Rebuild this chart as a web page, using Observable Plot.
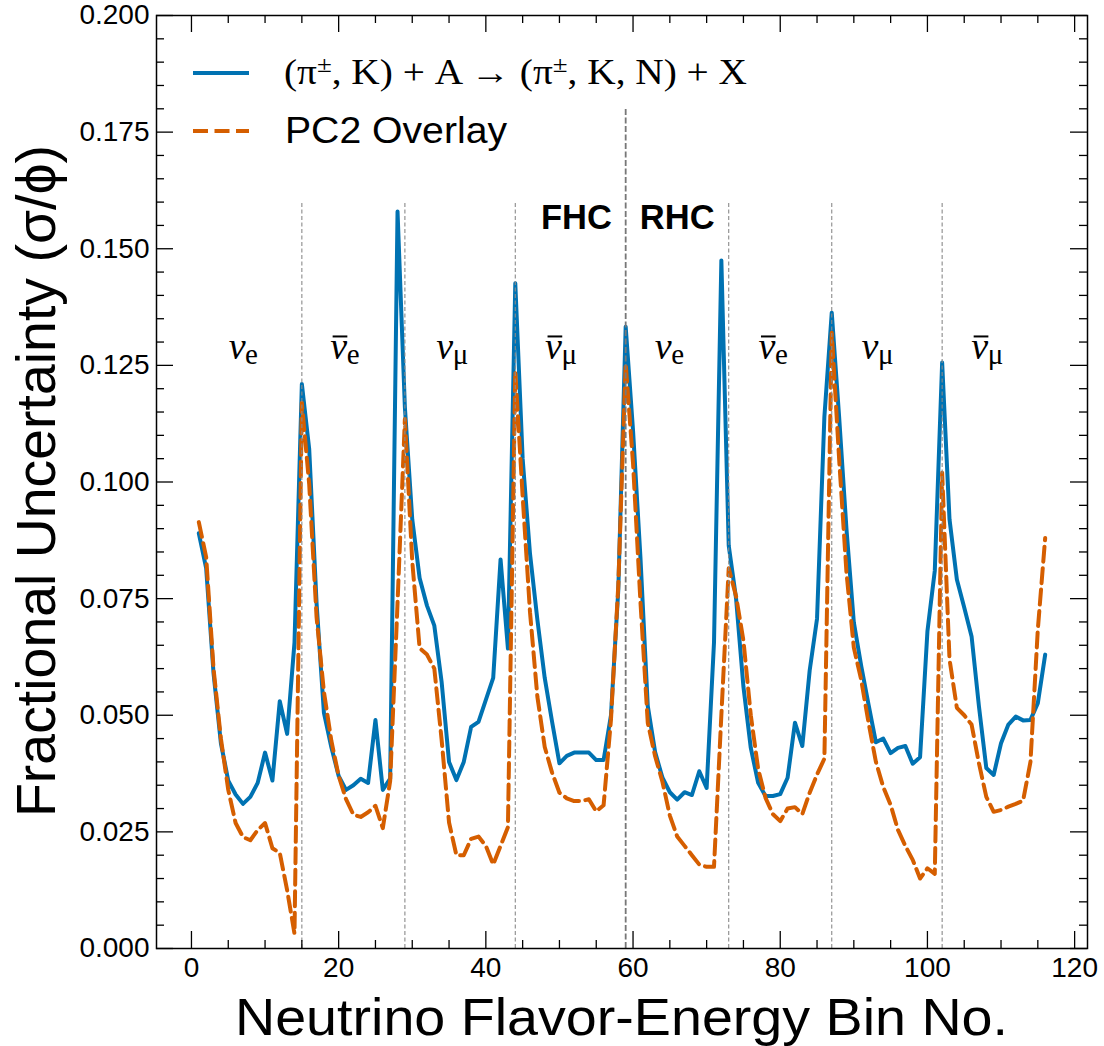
<!DOCTYPE html>
<html><head><meta charset="utf-8">
<script src="https://cdn.jsdelivr.net/npm/d3@7"></script>
<script src="https://cdn.jsdelivr.net/npm/@observablehq/plot@0.6"></script>
<style>
body{margin:0;background:#fff;}
#chart svg{display:block;}
</style></head><body><div id="chart"></div>
<script>
// ---------- data ----------
const bins = d3.range(1, 117);
const hadronProduction = [
  0.089, 0.0815, 0.059, 0.044, 0.036, 0.033, 0.031, 0.0325, 0.0355, 0.042,
  0.036, 0.053, 0.046, 0.0656, 0.121, 0.107, 0.074, 0.0505, 0.0432, 0.037,
  0.034, 0.035, 0.0364, 0.0355, 0.049, 0.034, 0.0364, 0.158, 0.116, 0.092,
  0.0794, 0.0735, 0.0692, 0.057, 0.040, 0.0361, 0.040, 0.0475, 0.0486, 0.0533,
  0.058, 0.0834, 0.0643, 0.1426, 0.105, 0.0846, 0.0705, 0.058, 0.0486, 0.0397,
  0.0413, 0.042, 0.042, 0.042, 0.0404, 0.0404, 0.050, 0.077, 0.1333, 0.111,
  0.084, 0.052, 0.0421, 0.0366, 0.0335, 0.0319, 0.0335, 0.0329, 0.038, 0.0344,
  0.0656, 0.1475, 0.0864, 0.075, 0.0561, 0.043, 0.0355, 0.0327, 0.0327, 0.0331,
  0.0366, 0.0484, 0.0434, 0.0596, 0.0707, 0.114, 0.1363, 0.114, 0.0899, 0.0699,
  0.0606, 0.0523, 0.0442, 0.045, 0.0419, 0.043, 0.0434, 0.0396, 0.041, 0.068,
  0.081, 0.1256, 0.092, 0.0791, 0.0731, 0.0669, 0.0519, 0.0387, 0.0372, 0.044,
  0.048, 0.0497, 0.0489, 0.049, 0.0526, 0.063
];
const pc2Overlay = [
  0.0914, 0.0839, 0.060, 0.045, 0.034, 0.0269, 0.0239, 0.0232, 0.0254, 0.0269,
  0.0215, 0.0205, 0.0125, 0.0032, 0.117, 0.0995, 0.071, 0.055, 0.0446, 0.037,
  0.032, 0.0287, 0.0282, 0.0292, 0.0306, 0.0258, 0.0359, 0.074, 0.1135, 0.083,
  0.0644, 0.063, 0.060, 0.0446, 0.027, 0.020, 0.020, 0.0235, 0.024, 0.022,
  0.018, 0.022, 0.026, 0.1237, 0.097, 0.0721, 0.054, 0.0432, 0.0377, 0.0334,
  0.0322, 0.0316, 0.0316, 0.032, 0.0294, 0.0307, 0.049, 0.078, 0.1254, 0.104,
  0.0745, 0.0484, 0.0412, 0.0357, 0.0285, 0.024, 0.022, 0.020, 0.018, 0.0175,
  0.0175, 0.050, 0.0815, 0.0755, 0.066, 0.050, 0.0385, 0.0323, 0.0288, 0.0273,
  0.030, 0.0303, 0.0288, 0.0334, 0.0373, 0.0407, 0.132, 0.105, 0.0806, 0.0645,
  0.0576, 0.0484, 0.040, 0.0346, 0.0308, 0.0254, 0.022, 0.019, 0.015, 0.0172,
  0.016, 0.102, 0.062, 0.0516, 0.050, 0.048, 0.0397, 0.0325, 0.0293, 0.0297,
  0.0304, 0.031, 0.0317, 0.040, 0.0684, 0.088
];
const seriesNames = ["(π±, K) + A → (π±, K, N) + X", "PC2 Overlay"];
const separatorBins = [15, 29, 44, 73, 87, 102];
const separatorTop = 0.16;
const hornSwitchBin = [59];
const hornSwitchTop = 0.18;
const flavorX = [6.2, 20.0, 34.4, 49.2, 64.1, 78.2, 92.2, 107.1];
const flavorBar = [false, true, false, true, false, true, false, true];
const flavorSub = ["e", "e", "μ", "μ", "e", "e", "μ", "μ"];
const flavorLevel = 0.1289;
const barLevel = 0.1312;
const barHalf = 1.0;
const hornLabels = ["FHC", "RHC"];
const hornLabelX = [52.3, 66.0];
const hornLevel = 0.1567;
const xTicks = [0, 20, 40, 60, 80, 100, 120];
const xMinorTicks = d3.range(5, 120, 5).filter(v => v % 20 !== 0);
const yTicks = [0, 0.025, 0.05, 0.075, 0.1, 0.125, 0.15, 0.175, 0.2];
const yMinorTicks = d3.range(1, 40).filter(i => i % 5 !== 0).map(i => i * 0.005);
const xDomain = [-4.75, 121.75];
const yDomain = [0, 0.2];
const xTitle = "Neutrino Flavor-Energy Bin No.";
const yTitle = "Fractional Uncertainty (σ/ϕ)";

// ---------- layout / style ----------
const W = 1104, H = 1046;
const mL = 156, mR = 17, mT = 15, mB = 98;
const innerW = W - mL - mR, innerH = H - mT - mB;
const majorLen = 17, minorLen = 8;
const blue = "#0072B2", orange = "#D55E00";
const sans = "'Liberation Sans', Arial, Helvetica, sans-serif";
const serif = "'Liberation Serif', 'Times New Roman', serif";

const blueRows = bins.map((b, i) => ({bin: b, value: hadronProduction[i]}));
const orangeRows = bins.map((b, i) => ({bin: b, value: pc2Overlay[i]}));
const flavorIdx = d3.range(flavorX.length);
const barIdx = flavorIdx.filter(i => flavorBar[i]);

const tickStyle = {stroke: "black", strokeWidth: 1.3};

const chart = Plot.plot({
  width: W, height: H,
  marginLeft: mL, marginRight: mR, marginTop: mT, marginBottom: mB,
  style: {fontFamily: sans, background: "white", color: "black"},
  x: {domain: xDomain, axis: null, label: null},
  y: {domain: yDomain, axis: null, label: null},
  marks: [
    Plot.line(blueRows, {x: "bin", y: "value", stroke: blue, strokeWidth: 4, strokeLinejoin: "round"}),
    Plot.line(orangeRows, {x: "bin", y: "value", stroke: orange, strokeWidth: 4, strokeDasharray: "15,6.5", strokeLinejoin: "round"}),
    Plot.ruleX(separatorBins, {x: d => d, y1: 0, y2: separatorTop, stroke: "#8a8a8a", strokeWidth: 1.1, strokeDasharray: "4,2.5"}),
    Plot.ruleX(hornSwitchBin, {x: d => d, y1: 0, y2: hornSwitchTop, stroke: "#777", strokeWidth: 1.8, strokeDasharray: "6,2.5"}),
    Plot.text(flavorIdx, {x: i => flavorX[i], y: () => flavorLevel, text: () => "ν",
      fontFamily: serif, fontStyle: "italic", fontSize: 38, textAnchor: "middle", fill: "black"}),
    Plot.ruleY(barIdx, {y: () => barLevel, x1: i => flavorX[i] - barHalf + 0.25, x2: i => flavorX[i] + barHalf + 0.25,
      stroke: "black", strokeWidth: 2}),
    Plot.text(flavorIdx, {x: i => flavorX[i], y: () => flavorLevel, text: i => flavorSub[i],
      fontFamily: serif, fontSize: 29, textAnchor: "start", dx: 8, dy: 7.5, fill: "black"}),
    Plot.text(hornLabels, {x: (d, i) => hornLabelX[i], y: () => hornLevel, text: d => d,
      fontFamily: sans, fontWeight: "bold", fontSize: 34.5, textAnchor: "middle", fill: "black"}),
    // inward ticks on all four sides
    Plot.tickY(yTicks, {y: d => d, insetRight: innerW - majorLen, ...tickStyle}),
    Plot.tickY(yTicks, {y: d => d, insetLeft: innerW - majorLen, ...tickStyle}),
    Plot.tickY(yMinorTicks, {y: d => d, insetRight: innerW - minorLen, ...tickStyle}),
    Plot.tickY(yMinorTicks, {y: d => d, insetLeft: innerW - minorLen, ...tickStyle}),
    Plot.tickX(xTicks, {x: d => d, insetTop: innerH - majorLen, ...tickStyle}),
    Plot.tickX(xTicks, {x: d => d, insetBottom: innerH - majorLen, ...tickStyle}),
    Plot.tickX(xMinorTicks, {x: d => d, insetTop: innerH - minorLen, ...tickStyle}),
    Plot.tickX(xMinorTicks, {x: d => d, insetBottom: innerH - minorLen, ...tickStyle}),
    Plot.axisX({ticks: xTicks, tickSize: 0, tickPadding: 9, fontSize: 28, tickFormat: d => String(d), label: null}),
    Plot.axisY({ticks: yTicks, tickSize: 0, tickPadding: 7, fontSize: 28, tickFormat: d3.format(".3f"), label: null}),
    Plot.frame({stroke: "black", strokeWidth: 1.5})
  ]
});
document.getElementById("chart").appendChild(chart);

// ---------- titles and legend ----------
const svg = d3.select(chart);
svg.append("text")
  .attr("x", mL + innerW / 2).attr("y", 1035)
  .attr("text-anchor", "middle")
  .attr("font-family", sans).attr("font-size", 52)
  .attr("textLength", 773).attr("lengthAdjust", "spacingAndGlyphs")
  .attr("fill", "black")
  .text(xTitle);
svg.append("text")
  .attr("transform", "translate(55,481) rotate(-90)")
  .attr("text-anchor", "middle")
  .attr("font-family", sans).attr("font-size", 55)
  .attr("textLength", 672).attr("lengthAdjust", "spacingAndGlyphs")
  .attr("fill", "black")
  .text(yTitle);

const leg = svg.append("g").attr("text-anchor", "start");
leg.append("line").attr("x1", 193).attr("x2", 249).attr("y1", 73).attr("y2", 73)
  .attr("stroke", blue).attr("stroke-width", 4);
leg.append("line").attr("x1", 193).attr("x2", 249).attr("y1", 131).attr("y2", 131)
  .attr("stroke", orange).attr("stroke-width", 4).attr("stroke-dasharray", "15,6.5");
const t1 = leg.append("text").attr("x", 284).attr("y", 84)
  .attr("text-anchor", "start")
  .attr("font-family", serif).attr("font-size", 35).attr("fill", "black")
  .attr("textLength", 463).attr("lengthAdjust", "spacingAndGlyphs");
t1.append("tspan").text("(π");
t1.append("tspan").attr("dy", -12).attr("font-size", 24).text("±");
t1.append("tspan").attr("dy", 12).text(", K) + A → (π");
t1.append("tspan").attr("dy", -12).attr("font-size", 24).text("±");
t1.append("tspan").attr("dy", 12).text(", K, N) + X");
leg.append("text").attr("x", 285).attr("y", 143)
  .attr("text-anchor", "start")
  .attr("font-family", sans).attr("font-size", 37).attr("fill", "black")
  .attr("textLength", 222).attr("lengthAdjust", "spacingAndGlyphs")
  .text(seriesNames[1]);
</script></body></html>
